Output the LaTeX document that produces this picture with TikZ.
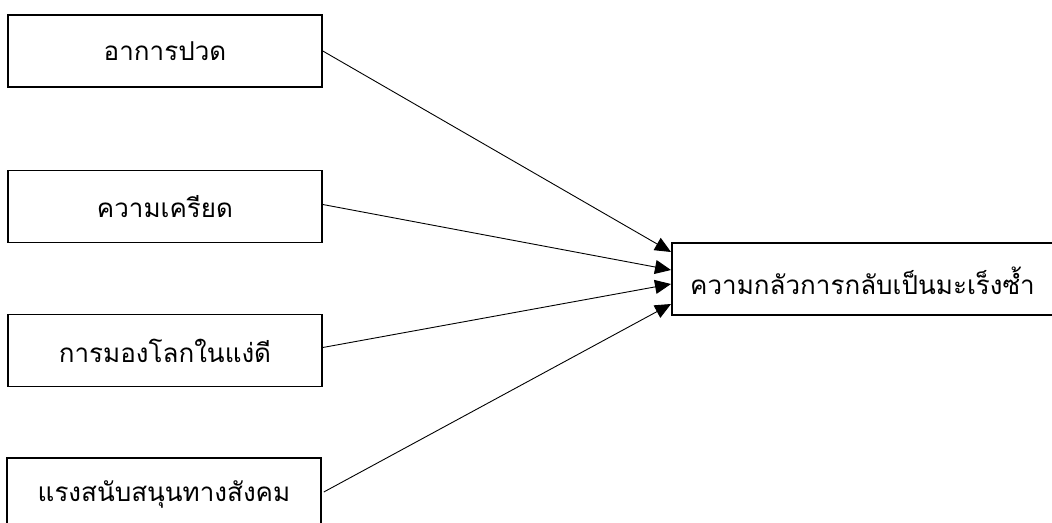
\documentclass[tikz,border=0pt]{standalone}
\usepackage{fontspec}
\newfontfamily\thaifont[Script=Thai]{Loma}
\usetikzlibrary{arrows.meta}
\begin{document}
\begin{tikzpicture}[x=1pt,y=-1pt,
  thai/.style={font=\thaifont\fontsize{26}{30}\selectfont},
  box/.style={draw,line width=1.6pt,minimum width=314pt,minimum height=72pt,inner sep=0pt,thai},
  link/.style={line width=0.9pt,-{Triangle[length=16pt,width=14pt]}}]
\useasboundingbox (0,0) rectangle (1052,522);
\clip (0,0) rectangle (1052,522);
\node[box] (a) at (165,51) {อาการปวด};
\node[box] (b) at (165,206.5) {ความเครียด};
\node[box] (c) at (165,350.5) {การมองโลกในแง่ดี};
\node[box] (d) at (164,494) {แรงสนับสนุนทางสังคม};
\node[box,minimum width=420pt,anchor=west] (t) at (671,279) {};
\node[thai,anchor=west,inner sep=0pt] (tt) at (690,281) {ความกลัวการกลับเป็นมะเร็งซ้ำ};
\draw[link] (a.east) -- ([yshift=27pt]t.west);
\draw[link] ([yshift=2pt]b.east) -- ([yshift=9pt]t.west);
\draw[link] ([yshift=3pt]c.east) -- ([yshift=-5pt]t.west);
\draw[link] ([yshift=2pt,xshift=2pt]d.east) -- ([yshift=-25pt]t.west);
\end{tikzpicture}
\end{document}
